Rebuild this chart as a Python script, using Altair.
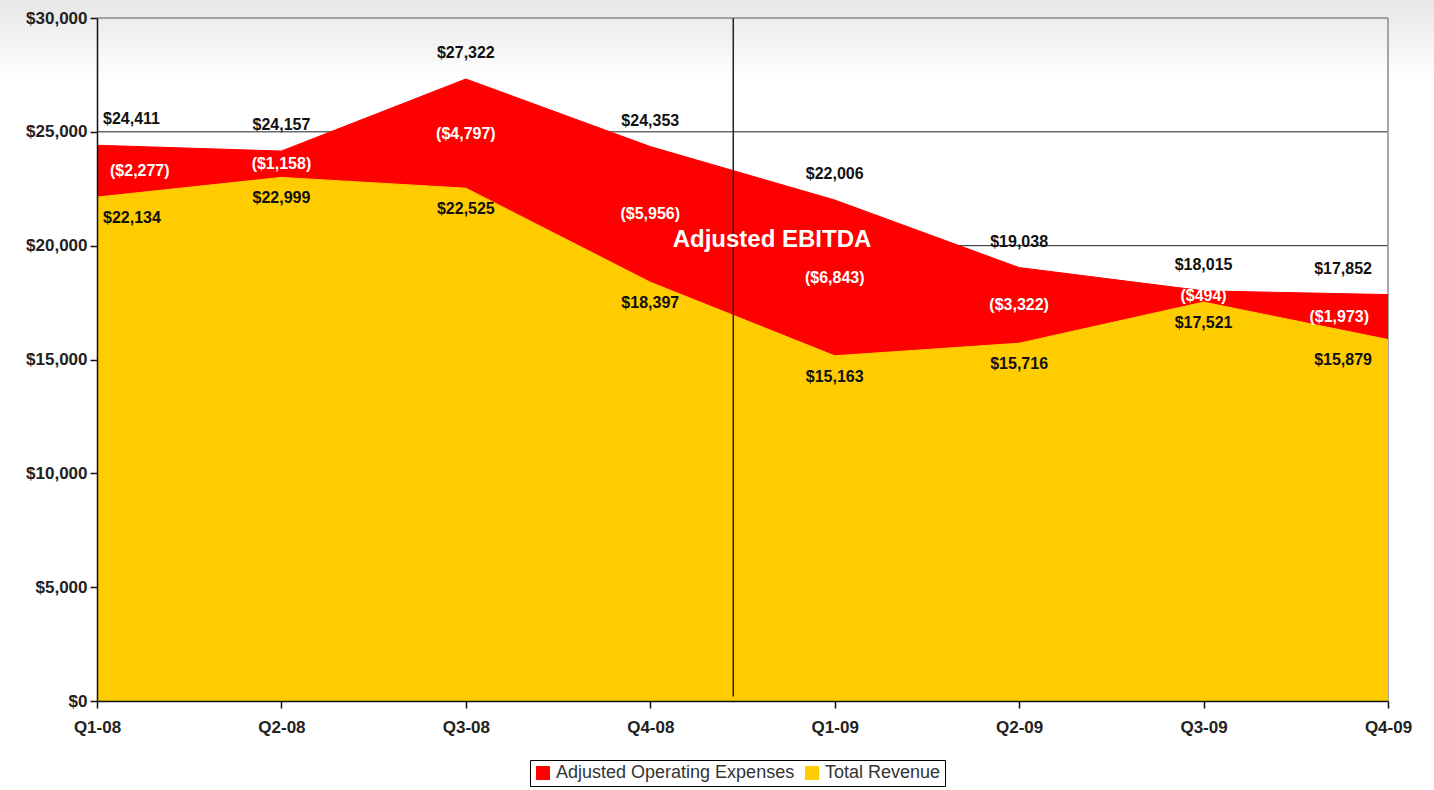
import altair as alt
import pandas as pd

quarters = ["Q1-08", "Q2-08", "Q3-08", "Q4-08", "Q1-09", "Q2-09", "Q3-09", "Q4-09"]
revenue = [22134, 22999, 22525, 18397, 15163, 15716, 17521, 15879]
expenses = [24411, 24157, 27322, 24353, 22006, 19038, 18015, 17852]
series_names = ["Adjusted Operating Expenses", "Total Revenue"]
series_colors = ["#FF0000", "#FFCC00"]
y_ticks = [0, 5000, 10000, 15000, 20000, 25000, 30000]
divider_at = [3.45]
annotation_text = ["Adjusted EBITDA"]
annotation_x = [3.66]
annotation_y = [20250]

FONT = "Liberation Sans"
W, H = 1291, 683
n = len(quarters)

wide = pd.DataFrame({"idx": list(range(n)), "quarter": quarters,
                     "revenue": revenue, "expenses": expenses})
long = pd.concat([
    pd.DataFrame({"idx": list(range(n)), "series": series_names[0], "value": expenses}),
    pd.DataFrame({"idx": list(range(n)), "series": series_names[1], "value": revenue}),
], ignore_index=True)

label_expr = "[" + ",".join(f"'{q}'" for q in quarters) + "][datum.value]"

x_scale = alt.Scale(domain=[0, n - 1], nice=False, zero=False)
y_scale = alt.Scale(domain=[0, 30000], nice=False)

x_axis = alt.Axis(values=list(range(n)), labelExpr=label_expr, title=None, grid=False,
                  labelFont=FONT, labelFontSize=17, labelFontWeight="bold", labelColor="#222",
                  labelPadding=11, tickSize=7, tickColor="#111", tickWidth=1.5,
                  domainColor="#111", domainWidth=1.5, zindex=1, labelFlush=False)
y_axis = alt.Axis(values=y_ticks, format="$,.0f", title=None, grid=False,
                  labelFont=FONT, labelFontSize=17, labelFontWeight="bold", labelColor="#222",
                  labelPadding=3, tickSize=7, tickColor="#111", tickWidth=1.5,
                  domainColor="#111", domainWidth=1.5, zindex=1)


def xq(field):
    return alt.X(field, type="quantitative", scale=x_scale, axis=x_axis)


def yq(field):
    return alt.Y(field, type="quantitative", scale=y_scale, axis=y_axis)


color_enc = alt.Color("series:N", scale=alt.Scale(domain=series_names, range=series_colors),
                      legend=alt.Legend(title=None, orient="none", legendX=433, legendY=742,
                                        direction="horizontal", symbolType="square",
                                        symbolSize=170, symbolStrokeColor="#000",
                                        symbolStrokeWidth=1, labelFont=FONT, labelFontSize=18,
                                        labelLimit=600,
                                        labelColor="#333", strokeColor="#000", fillColor="#fff",
                                        padding=4, columnPadding=8, labelOffset=4))

# page-like soft gradient background at top
grad = alt.Chart(pd.DataFrame({"a": [0]})).mark_rect(
    color=alt.LinearGradient(gradient="linear",
                             stops=[alt.GradientStop(color="#e6e6e6", offset=0),
                                    alt.GradientStop(color="#ffffff", offset=1)],
                             x1=0, x2=0, y1=0, y2=1)
).encode(x=alt.value(-97), x2=alt.value(W + 46), y=alt.value(-18), y2=alt.value(62))

grid = alt.Chart(pd.DataFrame({"v": y_ticks[1:-1]})).mark_rule(
    color="#222", strokeWidth=1).encode(y=yq("v"))

top_border = alt.Chart(pd.DataFrame({"v": [y_ticks[-1]]})).mark_rule(
    color="#8a8a8a", strokeWidth=1.5).encode(y=yq("v"))
right_border = alt.Chart(pd.DataFrame({"x": [n - 1], "y0": [0], "y1": [y_ticks[-1]]})).mark_rule(
    color="#8a8a8a", strokeWidth=1.5).encode(x=xq("x"), y=yq("y0"), y2="y1:Q")

area_exp = alt.Chart(long).transform_filter(
    alt.datum.series == series_names[0]
).mark_area(line={"color": "#2a0000", "strokeWidth": 1}, opacity=1).encode(
    x=xq("idx"), y=yq("value"), color=color_enc)

area_rev = alt.Chart(long).transform_filter(
    alt.datum.series == series_names[1]
).mark_area(line={"color": "#2a1a00", "strokeWidth": 1}, opacity=1).encode(
    x=xq("idx"), y=yq("value"), color=color_enc)

divider = alt.Chart(pd.DataFrame({"x": divider_at, "y0": [200], "y1": [y_ticks[-1]]})).mark_rule(
    color="#222", strokeWidth=1.5).encode(x=xq("x"), y=yq("y0"), y2="y1:Q")

base = alt.Chart(wide).transform_calculate(
    mid="(datum.expenses + datum.revenue) / 2",
    ebitda="'($' + format(datum.expenses - datum.revenue, ',') + ')'",
)


def text_layers(field, text_field, color, dy, dx_first, dx_last, fmt=None):
    layers = []
    for cond, align, dx in [("datum.idx == 0", "left", dx_first),
                            (f"datum.idx > 0 && datum.idx < {n - 1}", "center", 0),
                            (f"datum.idx == {n - 1}", "right", dx_last)]:
        t = alt.Text(text_field, type="nominal") if fmt is None else alt.Text(text_field, type="quantitative", format=fmt)
        layers.append(
            base.transform_filter(cond).mark_text(
                font=FONT, fontSize=16, fontWeight="bold", color=color,
                align=align, baseline="middle", dx=dx, dy=dy
            ).encode(x=xq("idx"), y=yq(field), text=t)
        )
    return layers


top_labels = text_layers("expenses", "expenses", "#111", -26, 6, -16, fmt="$,.0f")
bottom_labels = text_layers("revenue", "revenue", "#111", 21, 6, -16, fmt="$,.0f")
mid_labels = text_layers("mid", "ebitda", "#ffffff", 0, 13, -19)

annot = alt.Chart(pd.DataFrame({"t": annotation_text, "x": annotation_x, "y": annotation_y})).mark_text(
    font=FONT, fontSize=24, fontWeight="bold", color="#ffffff", align="center", baseline="middle"
).encode(x=xq("x"), y=yq("y"), text="t:N")

chart = alt.layer(
    grad, grid, top_border, right_border, area_exp, area_rev, divider,
    *top_labels, *bottom_labels, *mid_labels, annot
).properties(
    width=W, height=H, autosize="none",
    padding={"left": 97, "top": 18, "right": 46, "bottom": 89},
    background="#ffffff",
).configure_view(stroke=None)

chart.save("out.html", embed_options={"renderer": "svg", "actions": False})
